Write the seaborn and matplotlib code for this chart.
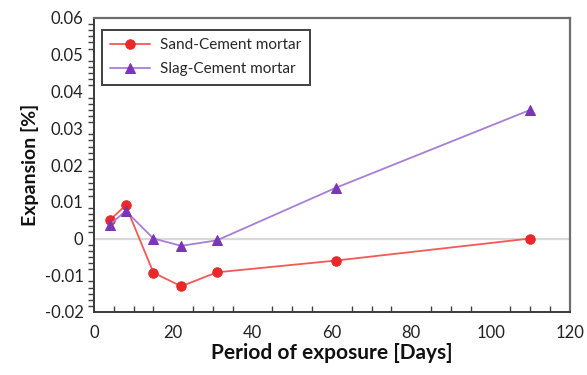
import matplotlib
matplotlib.use("Agg")
import matplotlib.pyplot as plt
from matplotlib.ticker import MultipleLocator, AutoMinorLocator, FuncFormatter
import seaborn as sns
import pandas as pd

# Measured expansion of mortar bars over the exposure period
days = [4, 8, 15, 22, 31, 61, 110]
sand_cement = [0.005, 0.009, -0.0093, -0.013, -0.0092, -0.006, 0.0]
slag_cement = [0.0037, 0.0075, 0.0, -0.002, -0.0005, 0.0138, 0.035]
series_names = ["Sand-Cement mortar", "Slag-Cement mortar"]

df = pd.concat([
    pd.DataFrame({"days": days, "expansion": sand_cement, "series": series_names[0]}),
    pd.DataFrame({"days": days, "expansion": slag_cement, "series": series_names[1]}),
])

sns.set_theme(style="white")
plt.rcParams["font.family"] = ["Lato", "DejaVu Sans"]

fig = plt.figure(figsize=(5.87, 3.75), dpi=100)
ax = fig.add_axes([0.160, 0.168, 0.811, 0.784])

# zero reference line
ax.axhline(0, color="#d9d9d9", lw=1.6, zorder=1)

line_colors = {series_names[0]: "#f25a55", series_names[1]: "#a77fd6"}
marker_colors = {series_names[0]: "#e8282a", series_names[1]: "#7a35b8"}
markers = {series_names[0]: "o", series_names[1]: "^"}
sizes = {series_names[0]: 6.8, series_names[1]: 6.5}

for name in series_names:
    sub = df[df["series"] == name]
    sns.lineplot(data=sub, x="days", y="expansion", ax=ax, color=line_colors[name],
                 marker=markers[name], markersize=sizes[name],
                 markerfacecolor=marker_colors[name], markeredgecolor=marker_colors[name],
                 lw=1.3, label=name, zorder=3)

ax.set_xlim(0, 120)
ax.set_ylim(-0.02, 0.06)
ax.xaxis.set_major_locator(MultipleLocator(20))
ax.xaxis.set_minor_locator(MultipleLocator(5))
ax.yaxis.set_major_locator(MultipleLocator(0.01))
ax.yaxis.set_minor_locator(AutoMinorLocator(6))

def yfmt(v, pos):
    if abs(v) < 1e-12:
        return "0"
    return f"{v:.2f}"
ax.yaxis.set_major_formatter(FuncFormatter(yfmt))

ax.tick_params(axis="both", which="major", direction="inout", length=7, width=1.2,
               colors="#404040", labelcolor="#222222", labelsize=12)
ax.tick_params(axis="x", which="minor", direction="in", length=4, width=1.0, colors="#404040",
               bottom=True)
ax.tick_params(axis="y", which="minor", direction="out", length=4, width=1.0, colors="#404040",
               left=True)
ax.tick_params(axis="x", pad=6)
ax.tick_params(axis="y", pad=4)

for side in ["left", "bottom"]:
    ax.spines[side].set_color("#3a3a3a")
    ax.spines[side].set_linewidth(1.4)
for side in ["top", "right"]:
    ax.spines[side].set_color("#6e6e6e")
    ax.spines[side].set_linewidth(1.6)

ax.set_xlabel("Period of exposure [Days]", fontsize=15, fontweight="bold", color="#111111", labelpad=1)
ax.set_ylabel("Expansion [%]", fontsize=14, fontweight="bold", color="#111111", labelpad=4)

leg = ax.legend(loc="upper left", bbox_to_anchor=(0.0, 0.985), frameon=True, fancybox=False,
                edgecolor="#111111", fontsize=11, handlelength=2.6, borderpad=0.55,
                labelspacing=0.65, handletextpad=0.7)
leg.get_frame().set_linewidth(1.4)

fig.savefig("out.png", dpi=100)
